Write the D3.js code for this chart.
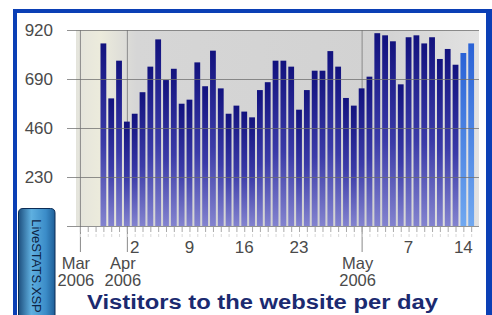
<!DOCTYPE html>
<html>
<head>
<meta charset="utf-8">
<script src="https://cdn.jsdelivr.net/npm/d3@7"></script>
<style>
  body { margin: 0; background: #fff; }
  text { font-family: Arial, "Liberation Sans", sans-serif; }
</style>
</head>
<body>
<div id="chart"></div>
<script>
// visitors per day, 29 Mar 2006 .. 15 May 2006
var firstDay = new Date(Date.UTC(2006, 2, 29));
var visitors = [857, 599, 776, 490, 527, 628, 748, 876, 685, 738, 574, 593,
  768, 656, 823, 646, 527, 565, 537, 510, 638, 675, 776, 776,
  748, 546, 638, 729, 729, 821, 748, 601, 565, 646, 701, 905,
  895, 867, 665, 886, 895, 857, 886, 784, 831, 757, 812, 857];
var highlighted = 2; // last days drawn in light blue
var yTicks = [230, 460, 690, 920];
var weekTicks = [[2006, 3, 2], [2006, 3, 9], [2006, 3, 16], [2006, 3, 23], [2006, 4, 7], [2006, 4, 14]];
var monthTicks = [[2006, 2, 26], [2006, 3, 1], [2006, 4, 1]];
var monthNames = ["Mar", "Apr", "May"];
var yearLabel = "2006";
var title = "Vistitors to the website per day";
var tabLabel = "LiveSTATS.XSP";

var svgWidth = 492;
var svgHeight = 315;

var svg = d3.select("#chart")
  .append("svg")
  .attr("width", svgWidth)
  .attr("height", svgHeight);

var defs = svg.append("defs");

var barGrad = defs.append("linearGradient").attr("id", "barGrad")
  .attr("x1", 0).attr("y1", 0).attr("x2", 0).attr("y2", 1);
barGrad.append("stop").attr("offset", "0%").attr("stop-color", "#12127e");
barGrad.append("stop").attr("offset", "55%").attr("stop-color", "#3b3ba8");
barGrad.append("stop").attr("offset", "100%").attr("stop-color", "#8383cf");

var hiGrad = defs.append("linearGradient").attr("id", "hiGrad")
  .attr("x1", 0).attr("y1", 0).attr("x2", 0).attr("y2", 1);
hiGrad.append("stop").attr("offset", "0%").attr("stop-color", "#2a62d6");
hiGrad.append("stop").attr("offset", "100%").attr("stop-color", "#70a8f0");

var bgGrad = defs.append("linearGradient").attr("id", "bgGrad")
  .attr("x1", 0).attr("y1", 0).attr("x2", 1).attr("y2", 0);
bgGrad.append("stop").attr("offset", "0%").attr("stop-color", "#e4e4dc");
bgGrad.append("stop").attr("offset", "6%").attr("stop-color", "#ecebdc");
bgGrad.append("stop").attr("offset", "15%").attr("stop-color", "#d6d6d6");
bgGrad.append("stop").attr("offset", "75%").attr("stop-color", "#d2d2d2");
bgGrad.append("stop").attr("offset", "100%").attr("stop-color", "#e2e2e2");

var tabGrad = defs.append("linearGradient").attr("id", "tabGrad")
  .attr("x1", 0).attr("y1", 0).attr("x2", 1).attr("y2", 0);
tabGrad.append("stop").attr("offset", "0%").attr("stop-color", "#1d4f7e");
tabGrad.append("stop").attr("offset", "35%").attr("stop-color", "#5fb0e0");
tabGrad.append("stop").attr("offset", "75%").attr("stop-color", "#3b8cc8");
tabGrad.append("stop").attr("offset", "100%").attr("stop-color", "#1f5f98");

// scales
var x = d3.scaleUtc()
  .domain([new Date(Date.UTC(2006, 2, 25, 12)), new Date(Date.UTC(2006, 4, 16))])
  .range([76, 479]);

var y = d3.scaleLinear()
  .domain([0, 920])
  .range([226, 30]);

var days = d3.utcDay.range(firstDay, d3.utcDay.offset(firstDay, visitors.length));
var data = days.map((d, i) => ({ date: d, value: visitors[i], hi: i >= visitors.length - highlighted }));
var barWidth = 5.8;

// plot background
svg.append("rect")
  .attr("x", x.range()[0]).attr("y", y(920))
  .attr("width", x.range()[1] - x.range()[0])
  .attr("height", y(0) - y(920))
  .attr("fill", "url(#bgGrad)");

// month lines
var toDate = a => new Date(Date.UTC(a[0], a[1], a[2]));
svg.append("g").selectAll("line")
  .data(monthTicks)
  .enter()
  .append("line")
  .attr("x1", d => x(toDate(d)) + 0.5).attr("x2", d => x(toDate(d)) + 0.5)
  .attr("y1", y(920)).attr("y2", 252)
  .attr("stroke", "#8a8a8a").attr("stroke-width", 1);

// bars
svg.append("g").selectAll("rect")
  .data(data)
  .enter()
  .append("rect")
  .attr("x", d => x(d.date) - barWidth / 2)
  .attr("y", d => y(d.value))
  .attr("width", barWidth)
  .attr("height", d => y(0) - y(d.value))
  .attr("fill", d => d.hi ? "url(#hiGrad)" : "url(#barGrad)");

// horizontal gridlines drawn over the bars
var leftAxis = d3.axisLeft(y)
  .tickValues([0].concat(yTicks))
  .tickSize(x.range()[1] - 67)
  .tickPadding(14)
  .tickFormat(d => d === 0 ? "" : d);

var yAxis = svg.append("g")
  .attr("transform", `translate(${x.range()[1]}, 0)`)
  .call(leftAxis);
yAxis.select(".domain").remove();
yAxis.selectAll(".tick line")
  .attr("stroke", "#6e6e6e")
  .attr("stroke-opacity", 0.75);
yAxis.selectAll(".tick text")
  .attr("x", 53 - x.range()[1])
  .attr("font-size", "17px")
  .attr("font-family", "Arial, 'Liberation Sans', sans-serif")
  .attr("fill", "#4a4a4a");

// small day ticks under the axis
var allDays = d3.utcDay.range(new Date(Date.UTC(2006, 2, 26)), new Date(Date.UTC(2006, 4, 16)));
svg.append("g").selectAll("line")
  .data(allDays)
  .enter()
  .append("line")
  .attr("x1", d => x(d) + 0.5).attr("x2", d => x(d) + 0.5)
  .attr("y1", 227).attr("y2", 232)
  .attr("stroke", "#a8a8a8");

svg.append("g").selectAll("line")
  .data(allDays)
  .enter()
  .append("line")
  .attr("x1", d => x(d) + 0.5).attr("x2", d => x(d) + 0.5)
  .attr("y1", 234).attr("y2", 237)
  .attr("stroke", "#d8d8d8");

// week labels
svg.append("g").selectAll("text")
  .data(weekTicks)
  .enter()
  .append("text")
  .attr("x", d => x(toDate(d)))
  .attr("y", 253)
  .attr("text-anchor", "middle")
  .attr("font-size", "17px")
  .attr("fill", "#4a4a4a")
  .text(d => d[2]);

// month labels
var months = svg.append("g").selectAll("text")
  .data(monthTicks)
  .enter()
  .append("text")
  .attr("x", d => x(toDate(d)) - 4)
  .attr("y", 269)
  .attr("text-anchor", "middle")
  .attr("font-size", "16.5px")
  .attr("fill", "#4a4a4a");
months.append("tspan").text((d, i) => monthNames[i]);
months.append("tspan")
  .attr("x", d => x(toDate(d)) - 4)
  .attr("dy", 17)
  .text(yearLabel);

// title
svg.append("text")
  .attr("x", 262.5)
  .attr("y", 309)
  .attr("text-anchor", "middle")
  .attr("font-size", "20px")
  .attr("font-weight", "bold")
  .attr("fill", "#1b2a70")
  .attr("textLength", 351)
  .attr("lengthAdjust", "spacingAndGlyphs")
  .text(title);

// blue frame
var frame = "#0b3fb5";
svg.append("rect").attr("x", 13).attr("y", 9).attr("width", 479).attr("height", 4).attr("fill", frame);
svg.append("rect").attr("x", 13).attr("y", 9).attr("width", 4).attr("height", 306).attr("fill", frame);
svg.append("rect").attr("x", 486).attr("y", 9).attr("width", 6).attr("height", 306).attr("fill", frame);

// side tab
svg.append("path")
  .attr("d", "M18.5,320 L18.5,213 Q18.5,208.5 23,208.5 L50.5,208.5 Q55,208.5 55,213 L55,320 Z")
  .attr("fill", "url(#tabGrad)")
  .attr("stroke", "#0c2c55")
  .attr("stroke-width", 1);

svg.append("text")
  .attr("transform", "translate(32, 266) rotate(90)")
  .attr("text-anchor", "middle")
  .attr("font-size", "13px")
  .attr("fill", "#0e2444")
  .text(tabLabel);
</script>
</body>
</html>
